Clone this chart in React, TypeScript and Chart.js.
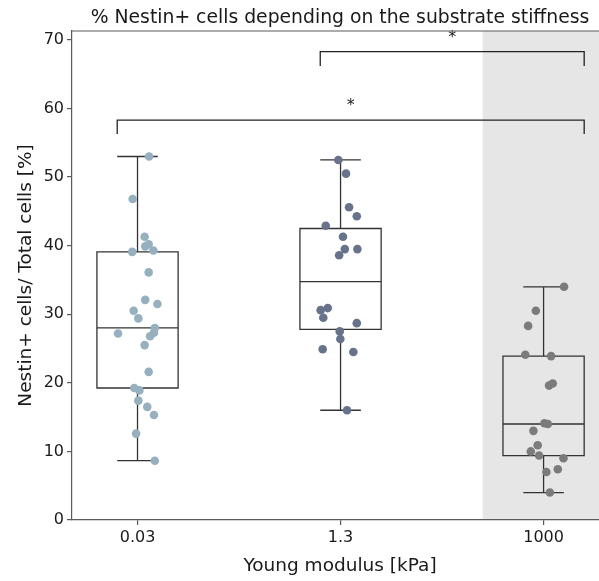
import React, { useEffect, useRef } from "react";
import { Chart, registerables } from "chart.js";
Chart.register(...registerables);

// ---- data ----
const categories = ["0.03", "1.3", "1000"];

const values003 = [53.0, 46.8, 41.3, 39.9, 40.2, 39.1, 39.3, 36.1, 32.1, 31.5, 30.5, 29.4, 27.2, 28.0, 27.3, 26.8, 25.5, 21.6, 19.25, 18.9, 17.4, 16.5, 15.3, 12.6, 8.65];
const jitter003 = [0.057, -0.024, 0.035, 0.038, 0.055, -0.026, 0.078, 0.055, 0.038, 0.098, -0.019, 0.004, -0.096, 0.085, 0.081, 0.062, 0.035, 0.055, -0.016, 0.009, 0.004, 0.048, 0.081, -0.007, 0.085];

const values13 = [52.5, 50.5, 45.6, 44.3, 42.9, 41.3, 39.5, 39.5, 38.6, 30.9, 30.6, 29.5, 28.7, 27.5, 26.4, 24.9, 24.5, 16.0];
const jitter13 = [-0.011, 0.027, 0.042, 0.08, -0.073, 0.012, 0.021, 0.083, -0.007, -0.063, -0.098, -0.085, 0.08, -0.004, -0.001, -0.088, 0.063, 0.032];

const values1000 = [34.0, 30.5, 28.3, 24.1, 23.9, 19.9, 19.6, 14.1, 14.0, 13.0, 10.9, 10.0, 9.4, 9.0, 7.4, 7.0, 4.0];
const jitter1000 = [0.101, -0.038, -0.076, -0.09, 0.037, 0.045, 0.027, 0.004, 0.021, -0.05, -0.029, -0.063, -0.022, 0.098, 0.07, 0.014, 0.031];

const groupValues = [values003, values13, values1000];
const groupJitter = [jitter003, jitter13, jitter1000];
const pointColors = ["#97b0bf", "#66738a", "#7b7b7b"];

const yTicks = [0, 10, 20, 30, 40, 50, 60, 70];

// significance brackets: [from group, to group, bracket y, drop y, label]
const bracketFrom = [0, 1];
const bracketTo = [2, 2];
const bracketY = [58.3, 68.3];
const bracketDrop = [56.3, 66.2];
const bracketLabel = ["*", "*"];

const shadeFrom = 1.7;

const titleText = "% Nestin+ cells depending on the substrate stiffness";
const xLabel = "Young modulus [kPa]";
const yLabel = "Nestin+ cells/ Total cells [%]";

// ---- helpers ----
function quantile(sorted: number[], q: number) {
  const pos = (sorted.length - 1) * q;
  const lo = Math.floor(pos);
  const hi = Math.ceil(pos);
  return sorted[lo] + (sorted[hi] - sorted[lo]) * (pos - lo);
}
function boxStats(vals: number[]) {
  const s = [...vals].sort((a, b) => a - b);
  const q1 = quantile(s, 0.25);
  const med = quantile(s, 0.5);
  const q3 = quantile(s, 0.75);
  const iqr = q3 - q1;
  const lo = s.find((v) => v >= q1 - 1.5 * iqr) as number;
  const hi = [...s].reverse().find((v) => v <= q3 + 1.5 * iqr) as number;
  return { q1, med, q3, lo, hi };
}

const FONT = "'DejaVu Sans', sans-serif";
const LINE = "#333333";
const SPINE = "#5a5a5a";
const TEXT = "#1a1a1a";

const boxPlugin = {
  id: "boxplot",
  beforeDraw(chart: any) {
    const { ctx, chartArea, scales } = chart;
    const x0 = scales.x.getPixelForValue(shadeFrom);
    ctx.save();
    ctx.fillStyle = "#e6e6e6";
    ctx.fillRect(x0, chartArea.top, chartArea.right - x0, chartArea.bottom - chartArea.top);
    ctx.restore();
  },
  beforeDatasetsDraw(chart: any) {
    const { ctx, scales } = chart;
    const xs = scales.x;
    const ys = scales.y;
    ctx.save();
    ctx.strokeStyle = LINE;
    ctx.lineWidth = 1.3;
    groupValues.forEach((vals, g) => {
      const st = boxStats(vals);
      const xl = xs.getPixelForValue(g - 0.2);
      const xr = xs.getPixelForValue(g + 0.2);
      const xc = xs.getPixelForValue(g);
      const cl = xs.getPixelForValue(g - 0.1);
      const cr = xs.getPixelForValue(g + 0.1);
      const yq1 = ys.getPixelForValue(st.q1);
      const yq3 = ys.getPixelForValue(st.q3);
      const ym = ys.getPixelForValue(st.med);
      const ylo = ys.getPixelForValue(st.lo);
      const yhi = ys.getPixelForValue(st.hi);
      ctx.beginPath();
      ctx.rect(xl, yq3, xr - xl, yq1 - yq3);
      ctx.moveTo(xl, ym);
      ctx.lineTo(xr, ym);
      ctx.moveTo(xc, yq3);
      ctx.lineTo(xc, yhi);
      ctx.moveTo(xc, yq1);
      ctx.lineTo(xc, ylo);
      ctx.moveTo(cl, yhi);
      ctx.lineTo(cr, yhi);
      ctx.moveTo(cl, ylo);
      ctx.lineTo(cr, ylo);
      ctx.stroke();
    });
    ctx.restore();
  },
  afterDatasetsDraw(chart: any) {
    const { ctx, scales } = chart;
    const xs = scales.x;
    const ys = scales.y;
    ctx.save();
    ctx.strokeStyle = "#222";
    ctx.lineWidth = 1.3;
    ctx.fillStyle = TEXT;
    ctx.font = `16px ${FONT}`;
    ctx.textAlign = "center";
    ctx.textBaseline = "alphabetic";
    bracketFrom.forEach((f, i) => {
      const xa = xs.getPixelForValue(f - 0.1);
      const xb = xs.getPixelForValue(bracketTo[i] + 0.2);
      const yb = ys.getPixelForValue(bracketY[i]);
      const yd = ys.getPixelForValue(bracketDrop[i]);
      ctx.beginPath();
      ctx.moveTo(xa, yd);
      ctx.lineTo(xa, yb);
      ctx.lineTo(xb, yb);
      ctx.lineTo(xb, yd);
      ctx.stroke();
      ctx.fillText(bracketLabel[i], (xa + xb) / 2, yb - 10);
    });
    ctx.restore();
  },
  afterDraw(chart: any) {
    const { ctx, chartArea } = chart;
    ctx.save();
    // top spine
    ctx.strokeStyle = SPINE;
    ctx.lineWidth = 1.2;
    ctx.beginPath();
    ctx.moveTo(chartArea.left, chartArea.top);
    ctx.lineTo(chartArea.right, chartArea.top);
    ctx.stroke();
    ctx.fillStyle = TEXT;
    ctx.textAlign = "center";
    ctx.textBaseline = "middle";
    const cx = 340;
    ctx.font = `18.8px ${FONT}`;
    ctx.fillText(titleText, cx, 18);
    ctx.font = `18.5px ${FONT}`;
    ctx.fillText(xLabel, cx, 566);
    ctx.translate(26, (chartArea.top + chartArea.bottom) / 2);
    ctx.rotate(-Math.PI / 2);
    ctx.fillText(yLabel, 0, 0);
    ctx.restore();
  },
};

export default function App() {
  const ref = useRef<HTMLCanvasElement>(null);
  useEffect(() => {
    if (!ref.current) return;
    const datasets = groupValues.map((vals, g) => ({
      label: categories[g],
      data: vals.map((v, i) => ({ x: g + groupJitter[g][i], y: v })),
      backgroundColor: pointColors[g],
      borderWidth: 0,
      pointRadius: 4.3,
      pointHoverRadius: 4.3,
    }));
    const chart = new Chart(ref.current, {
      type: "scatter",
      data: { datasets },
      plugins: [boxPlugin],
      options: {
        animation: false,
        responsive: false,
        devicePixelRatio: 1,
        events: [],
        layout: { autoPadding: false, padding: { top: 31, left: 0, right: 0, bottom: 0 } },
        plugins: { legend: { display: false }, tooltip: { enabled: false }, title: { display: false } },
        scales: {
          x: {
            type: "linear",
            min: -0.3227,
            max: 2.273,
            afterBuildTicks: (scale: any) => {
              scale.ticks = categories.map((_, i) => ({ value: i }));
            },
            afterFit: (scale: any) => {
              scale.height = 61;
              scale.paddingLeft = 0;
              scale.paddingRight = 0;
            },
            ticks: {
              callback: (v: any) => categories[v as number],
              font: { family: FONT, size: 16 },
              color: TEXT,
              padding: 3,
              autoSkip: false,
              maxRotation: 0,
            },
            grid: { drawOnChartArea: false, drawTicks: true, tickLength: 5, color: SPINE, lineWidth: 1.2 },
            border: { display: true, color: SPINE, width: 1.2 },
          },
          y: {
            min: 0,
            max: 71.3,
            afterBuildTicks: (scale: any) => {
              scale.ticks = yTicks.map((v) => ({ value: v }));
            },
            afterFit: (scale: any) => {
              scale.width = 72;
              scale.paddingTop = 0;
              scale.paddingBottom = 0;
            },
            ticks: {
              font: { family: FONT, size: 16 },
              color: TEXT,
              padding: 3,
            },
            grid: { drawOnChartArea: false, drawTicks: true, tickLength: 5, color: SPINE, lineWidth: 1.2 },
            border: { display: true, color: SPINE, width: 1.2 },
          },
        },
      },
    } as any);
    return () => chart.destroy();
  }, []);
  return (
    <div style={{ position: "absolute", left: 0, top: 0, width: 599, height: 581, background: "#fff" }}>
      <canvas ref={ref} width={599} height={581} />
    </div>
  );
}
